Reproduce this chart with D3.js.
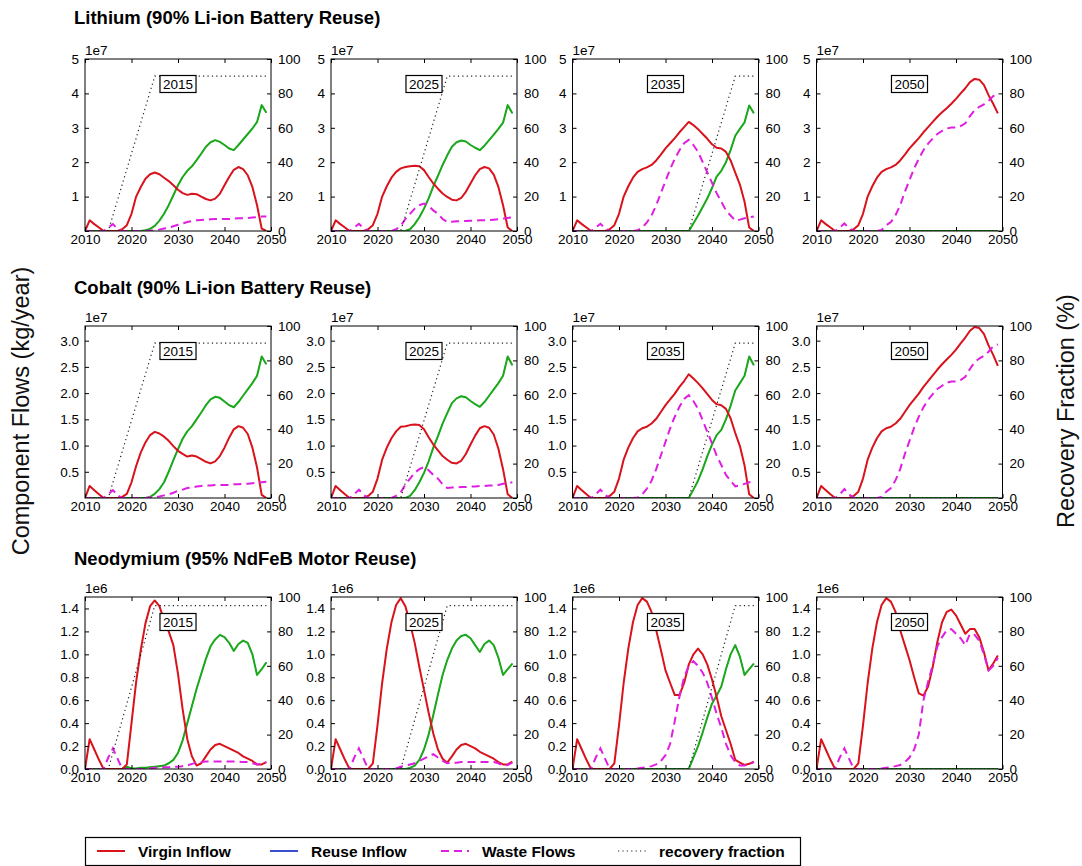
<!DOCTYPE html>
<html>
<head>
<meta charset="utf-8">
<script src="https://cdn.jsdelivr.net/npm/d3@7"></script>
<style>
  body { margin: 0; background: #fff; }
  svg { display: block; font-family: "Liberation Sans", Arial, Helvetica, sans-serif; }
</style>
</head>
<body>
<svg id="chart" width="1082" height="866"></svg>
<script>
// Years of the simulation (one value per year)
const years = [2010,2011,2012,2013,2014,2015,2016,2017,2018,2019,
               2020,2021,2022,2023,2024,2025,2026,2027,2028,2029,
               2030,2031,2032,2033,2034,2035,2036,2037,2038,2039,
               2040,2041,2042,2043,2044,2045,2046,2047,2048,2049];

const scenarioLabels = ["2015", "2025", "2035", "2050"];
const materialTitles = ["Lithium (90% Li-ion Battery Reuse)",
                        "Cobalt (90% Li-ion Battery Reuse)",
                        "Neodymium (95% NdFeB Motor Reuse)"];
const xTicks = [2010, 2020, 2030, 2040, 2050];
const recoveryTicks = [0, 20, 40, 60, 80, 100];
const liTicks = [0, 1, 2, 3, 4, 5];
const coTicks = [0.5, 1.0, 1.5, 2.0, 2.5, 3.0];
const ndTicks = [0.0, 0.2, 0.4, 0.6, 0.8, 1.0, 1.2, 1.4];

// No reuse in the 2050 scenario
const zeroFlow = [0,0,0,0,0,0,0,0,0,0, 0,0,0,0,0,0,0,0,0,0, 0,0,0,0,0,0,0,0,0,0, 0,0,0,0,0,0,0,0,0,0];

// Recovery fraction (%), ramping from the scenario start year
const rec90From2015 = [0,0,0,0,0,0,9,18,27,36, 45,54,63,72,81,90,90,90,90,90, 90,90,90,90,90,90,90,90,90,90, 90,90,90,90,90,90,90,90,90,90];
const rec90From2025 = [0,0,0,0,0,0,0,0,0,0, 0,0,0,0,0,0,9,18,27,36, 45,54,63,72,81,90,90,90,90,90, 90,90,90,90,90,90,90,90,90,90];
const rec90From2035 = [0,0,0,0,0,0,0,0,0,0, 0,0,0,0,0,0,0,0,0,0, 0,0,0,0,0,0,9,18,27,36, 45,54,63,72,81,90,90,90,90,90];
const rec95From2015 = [0,0,0,0,0,0,9.5,19,28.5,38, 47.5,57,66.5,76,85.5,95,95,95,95,95, 95,95,95,95,95,95,95,95,95,95, 95,95,95,95,95,95,95,95,95,95];
const rec95From2025 = [0,0,0,0,0,0,0,0,0,0, 0,0,0,0,0,0,9.5,19,28.5,38, 47.5,57,66.5,76,85.5,95,95,95,95,95, 95,95,95,95,95,95,95,95,95,95];
const rec95From2035 = [0,0,0,0,0,0,0,0,0,0, 0,0,0,0,0,0,0,0,0,0, 0,0,0,0,0,0,9.5,19,28.5,38, 47.5,57,66.5,76,85.5,95,95,95,95,95];
const recNone = zeroFlow;

// ---- Lithium (x 1e7 kg/year) ----
const liVirgin2015 = [0,.31,.2,.1,0,0,0,0,.05,.17, .5,1.0,1.28,1.52,1.65,1.70,1.65,1.55,1.45,1.33, 1.2,1.1,1.05,1.08,1.07,1.0,.93,.89,.94,1.08, 1.33,1.57,1.78,1.86,1.8,1.62,1.28,.75,.07,0];
const liRecovered2015 = [0,0,0,0,0,0,0,0,0,0, 0,0,0,.02,.06,.15,.3,.5,.75,1.04, 1.33,1.57,1.75,1.88,2.06,2.25,2.45,2.58,2.64,2.59, 2.5,2.4,2.35,2.5,2.66,2.82,2.98,3.17,3.66,3.44];
const liWaste2015 = [0,0,0,0,0,.1,.2,.06,0,0, 0,0,0,0,.01,.02,.04,.07,.1,.14, .18,.22,.26,.29,.31,.32,.33,.34,.35,.35, .35,.35,.36,.37,.37,.38,.39,.4,.42,.42];

const liVirgin2025 = [0,.31,.2,.1,0,0,0,0,.05,.17, .5,1.0,1.3,1.55,1.72,1.82,1.86,1.88,1.9,1.88, 1.77,1.57,1.38,1.23,1.09,.99,.91,.89,.96,1.14, 1.38,1.62,1.8,1.86,1.82,1.64,1.28,.75,.1,0];
const liRecovered2025 = [0,0,0,0,0,0,0,0,0,0, 0,0,0,0,0,0,0,.05,.2,.4, .65,.95,1.3,1.6,1.92,2.2,2.45,2.58,2.63,2.6, 2.5,2.42,2.35,2.48,2.64,2.8,2.97,3.15,3.66,3.42];
const liWaste2025 = [0,0,0,0,0,.1,.21,.08,0,0, 0,0,0,0,.05,.15,.35,.5,.65,.75, .8,.72,.6,.5,.35,.26,.27,.28,.29,.29, .3,.3,.31,.31,.32,.33,.34,.36,.38,.4];

const liVirgin2035 = [0,.31,.2,.1,0,0,0,0,.05,.17, .5,1.0,1.3,1.55,1.72,1.8,1.85,1.92,2.05,2.22, 2.4,2.55,2.7,2.87,3.02,3.17,3.08,2.96,2.82,2.68, 2.52,2.42,2.4,2.3,2.05,1.7,1.35,.85,.1,0];
const liRecovered2035 = [0,0,0,0,0,0,0,0,0,0, 0,0,0,0,0,0,0,0,0,0, 0,0,0,0,0,0,.22,.45,.7,.95, 1.25,1.58,1.75,2.0,2.35,2.77,2.97,3.16,3.65,3.42];
const liWaste2035 = [0,0,0,0,0,.1,.21,.08,0,0, 0,0,0,0,.02,.1,.25,.45,.75,1.1, 1.45,1.8,2.1,2.35,2.55,2.65,2.5,2.3,2.0,1.7, 1.4,1.1,.85,.6,.45,.3,.33,.37,.4,.42];

const liVirgin2050 = [0,.31,.2,.1,0,0,0,0,.05,.17, .5,1.0,1.3,1.55,1.72,1.8,1.85,1.92,2.05,2.22, 2.4,2.55,2.7,2.87,3.02,3.17,3.32,3.45,3.57,3.7, 3.84,4.0,4.15,4.33,4.42,4.4,4.25,3.95,3.7,3.42];
const liWaste2050 = [0,0,0,0,0,.1,.22,.08,0,0, 0,0,0,0,.03,.17,.26,.46,.75,1.14, 1.48,1.82,2.1,2.35,2.54,2.69,2.82,2.91,2.98,3.01, 3.01,3.05,3.13,3.34,3.51,3.61,3.68,3.78,3.92,3.98];

// ---- Cobalt (x 1e7 kg/year) ----
const coVirgin2015 = [0,.23,.15,.07,0,0,0,0,.02,.08, .3,.61,.87,1.06,1.2,1.26,1.23,1.17,1.09,.99, .9,.84,.79,.81,.79,.74,.69,.66,.7,.8, .96,1.15,1.31,1.37,1.34,1.22,.96,.58,.06,0];
const coRecovered2015 = [0,0,0,0,0,0,0,0,0,0, 0,0,0,0,.02,.08,.17,.3,.5,.72, .93,1.13,1.27,1.37,1.5,1.63,1.77,1.88,1.93,1.91, 1.84,1.77,1.73,1.83,1.95,2.07,2.19,2.33,2.7,2.55];
const coWaste2015 = [0,0,0,0,0,.07,.15,.05,0,0, 0,0,0,0,.01,.02,.03,.05,.07,.1, .14,.16,.19,.2,.22,.23,.24,.24,.25,.25, .25,.25,.26,.26,.27,.27,.28,.29,.3,.31];

const coVirgin2025 = [0,.23,.15,.07,0,0,0,0,.04,.12, .37,.73,.96,1.14,1.27,1.36,1.37,1.39,1.4,1.39, 1.31,1.16,1.02,.91,.8,.73,.67,.66,.71,.84, 1.02,1.19,1.33,1.37,1.34,1.21,.94,.55,.07,0];
const coRecovered2025 = [0,0,0,0,0,0,0,0,0,0, 0,0,0,0,0,0,0,.04,.15,.3, .48,.7,.96,1.18,1.42,1.62,1.81,1.9,1.94,1.92, 1.85,1.79,1.74,1.83,1.95,2.07,2.19,2.33,2.7,2.53];
const coWaste2025 = [0,0,0,0,0,.07,.16,.06,0,0, 0,0,0,0,.04,.11,.26,.37,.48,.55, .59,.53,.44,.37,.26,.19,.2,.2,.21,.21, .22,.22,.23,.23,.24,.24,.25,.27,.28,.3];

const coVirgin2035 = [0,.23,.15,.07,0,0,0,0,.04,.12, .37,.73,.96,1.14,1.27,1.33,1.36,1.42,1.51,1.64, 1.77,1.88,1.99,2.12,2.23,2.36,2.28,2.19,2.09,1.98, 1.87,1.79,1.77,1.7,1.52,1.24,.99,.62,.07,0];
const coRecovered2035 = [0,0,0,0,0,0,0,0,0,0, 0,0,0,0,0,0,0,0,0,0, 0,0,0,0,0,0,.16,.33,.55,.8, 1.02,1.2,1.3,1.5,1.76,2.05,2.19,2.33,2.7,2.53];
const coWaste2035 = [0,0,0,0,0,.07,.16,.06,0,0, 0,0,0,0,.01,.07,.18,.33,.55,.81, 1.07,1.33,1.55,1.74,1.89,1.96,1.85,1.7,1.48,1.26, 1.04,.81,.63,.44,.33,.22,.24,.27,.3,.31];

const coVirgin2050 = [0,.23,.15,.07,0,0,0,0,.04,.12, .37,.73,.96,1.14,1.27,1.33,1.36,1.42,1.51,1.64, 1.77,1.88,1.99,2.12,2.23,2.34,2.45,2.55,2.64,2.73, 2.83,2.95,3.06,3.19,3.26,3.24,3.13,2.91,2.73,2.52];
const coWaste2050 = [0,0,0,0,0,.07,.17,.07,0,0, 0,0,0,0,.02,.12,.19,.34,.55,.84, 1.09,1.34,1.55,1.73,1.87,1.98,2.08,2.14,2.2,2.22, 2.22,2.25,2.31,2.46,2.59,2.66,2.71,2.79,2.89,2.93];

// ---- Neodymium (x 1e6 kg/year) ----
const ndVirgin2015 = [0,.26,.17,.08,0,0,0,0,0,.04, .4,.76,1.04,1.27,1.42,1.47,1.42,1.3,1.2,1.08, .83,.52,.26,.11,.03,.05,.11,.17,.21,.22, .2,.18,.16,.14,.11,.09,.07,.04,.04,.06];
const ndRecovered2015 = [0,0,0,0,0,0,0,0,0,.02, .005,.005,.01,.01,.015,.02,.025,.03,.05,.08, .14,.25,.4,.55,.7,.83,.96,1.07,1.13,1.17, 1.15,1.1,1.03,1.09,1.12,1.1,1.0,.82,.87,.93];
const ndWaste2015 = [0,0,0,0,0,.1,.18,.09,0,0, 0,0,0,0,.005,.01,.01,.015,.015,.02, .02,.025,.03,.045,.055,.06,.065,.065,.065,.065, .065,.065,.065,.065,.06,.06,.05,.04,.045,.06];

const ndVirgin2025 = [0,.26,.17,.08,0,0,0,0,0,.05, .38,.75,1.05,1.28,1.43,1.49,1.42,1.27,1.1,.89, .69,.49,.31,.17,.09,.055,.11,.17,.21,.22, .2,.18,.15,.13,.11,.09,.06,.04,.04,.065];
const ndRecovered2025 = [0,0,0,0,0,0,0,0,0,0, 0,0,0,0,0,0,0,.01,.03,.08, .17,.3,.47,.65,.82,.95,1.05,1.12,1.16,1.17, 1.14,1.08,1.02,1.09,1.12,1.08,.97,.82,.87,.92];
const ndWaste2025 = [0,0,0,0,0,.1,.18,.09,0,0, 0,0,0,0,.005,.02,.03,.04,.05,.07, .09,.11,.13,.1,.07,.05,.055,.055,.06,.06, .06,.06,.06,.06,.06,.06,.05,.03,.035,.055];

const ndVirgin2035 = [0,.26,.17,.08,0,0,0,0,0,.05, .38,.75,1.05,1.28,1.43,1.49,1.46,1.37,1.21,1.04, .86,.75,.645,.645,.75,.91,1.0,1.05,1.0,.91, .78,.63,.46,.34,.22,.08,.055,.035,.045,.065];
const ndRecovered2035 = [0,0,0,0,0,0,0,0,0,0, 0,0,0,0,0,0,0,0,0,0, 0,0,0,0,0,0,.1,.2,.32,.45, .57,.64,.72,.87,1.0,1.08,.98,.82,.87,.92];
const ndWaste2035 = [0,0,0,0,0,.1,.18,.09,0,0, 0,0,0,0,.005,.01,.015,.025,.04,.07, .12,.22,.42,.63,.8,.9,.94,.9,.84,.75, .62,.48,.36,.22,.12,.06,.03,.03,.04,.06];

const ndVirgin2050 = [0,.26,.17,.08,0,0,0,0,0,.05, .38,.75,1.05,1.28,1.43,1.49,1.46,1.37,1.21,1.08, .95,.8,.66,.64,.72,.89,1.11,1.28,1.37,1.39, 1.34,1.26,1.18,1.22,1.22,1.15,1.02,.86,.92,.99];
const ndWaste2050 = [0,0,0,0,0,.1,.18,.09,0,0, 0,0,0,0,.005,.01,.015,.025,.035,.06, .1,.17,.3,.6,.76,.91,1.07,1.15,1.21,1.22, 1.18,1.14,1.08,1.18,1.17,1.12,1.0,.86,.9,.97];

// ---- colours and series styles ----
const colors = { virgin: "#d9121b", reuse: "#3a4fd0", recovered: "#1ba81b", waste: "#e01ee0", recovery: "#222" };

// ---- assemble panels ----
const materials = [
  { title: materialTitles[0], exponent: "1e7", yMax: 5, ticks: liTicks,
    fmt: d => d === 0 ? "" : d3.format("d")(d),
    panels: [
      { virgin: liVirgin2015, recovered: liRecovered2015, waste: liWaste2015, recovery: rec90From2015 },
      { virgin: liVirgin2025, recovered: liRecovered2025, waste: liWaste2025, recovery: rec90From2025 },
      { virgin: liVirgin2035, recovered: liRecovered2035, waste: liWaste2035, recovery: rec90From2035 },
      { virgin: liVirgin2050, recovered: zeroFlow, waste: liWaste2050, recovery: recNone } ] },
  { title: materialTitles[1], exponent: "1e7", yMax: 3.28, ticks: coTicks,
    fmt: d3.format(".1f"),
    panels: [
      { virgin: coVirgin2015, recovered: coRecovered2015, waste: coWaste2015, recovery: rec90From2015 },
      { virgin: coVirgin2025, recovered: coRecovered2025, waste: coWaste2025, recovery: rec90From2025 },
      { virgin: coVirgin2035, recovered: coRecovered2035, waste: coWaste2035, recovery: rec90From2035 },
      { virgin: coVirgin2050, recovered: zeroFlow, waste: coWaste2050, recovery: recNone } ] },
  { title: materialTitles[2], exponent: "1e6", yMax: 1.5, ticks: ndTicks,
    fmt: d3.format(".1f"),
    panels: [
      { virgin: ndVirgin2015, recovered: ndRecovered2015, waste: ndWaste2015, recovery: rec95From2015 },
      { virgin: ndVirgin2025, recovered: ndRecovered2025, waste: ndWaste2025, recovery: rec95From2025 },
      { virgin: ndVirgin2035, recovered: ndRecovered2035, waste: ndWaste2035, recovery: rec95From2035 },
      { virgin: ndVirgin2050, recovered: zeroFlow, waste: ndWaste2050, recovery: recNone } ] }
];

// ---- layout ----
const svg = d3.select("#chart");
const colX = [85, 331, 572.5, 816.5];
const rowY = [59, 326, 597];
const titleY = [24, 294, 565];
const panelW = 186, panelH = 172;
const tickFont = 13.5;

materials.forEach((m, r) => {
  svg.append("text")
    .attr("x", 74).attr("y", titleY[r])
    .attr("font-size", 18.5).attr("font-weight", "bold")
    .text(m.title);

  m.panels.forEach((p, c) => {
    const g = svg.append("g").attr("transform", `translate(${colX[c]},${rowY[r]})`);
    const x = d3.scaleLinear().domain([2010, 2050]).range([0, panelW]);
    const y = d3.scaleLinear().domain([0, m.yMax]).range([panelH, 0]);
    const y2 = d3.scaleLinear().domain([0, 100]).range([panelH, 0]);

    const clipId = `clip-${r}-${c}`;
    g.append("clipPath").attr("id", clipId)
      .append("rect").attr("x", 0).attr("y", -2).attr("width", panelW).attr("height", panelH + 2);

    const plot = g.append("g").attr("clip-path", `url(#${clipId})`);
    const flowLine = d3.line().x((d, i) => x(years[i])).y(d => y(d));
    const recLine = d3.line().x((d, i) => x(years[i])).y(d => y2(d));

    // reuse inflow equals the recovered flow, drawn thinner beneath it
    plot.append("path").datum(p.recovered).attr("d", flowLine)
      .attr("fill", "none").attr("stroke", colors.reuse).attr("stroke-width", 1);
    plot.append("path").datum(p.recovered).attr("d", flowLine)
      .attr("fill", "none").attr("stroke", colors.recovered).attr("stroke-width", 2)
      .attr("stroke-linejoin", "round");
    plot.append("path").datum(p.virgin).attr("d", flowLine)
      .attr("fill", "none").attr("stroke", colors.virgin).attr("stroke-width", 2)
      .attr("stroke-linejoin", "round");
    plot.append("path").datum(p.waste).attr("d", flowLine)
      .attr("fill", "none").attr("stroke", colors.waste).attr("stroke-width", 2)
      .attr("stroke-dasharray", "8,5");
    plot.append("path").datum(p.recovery).attr("d", recLine)
      .attr("fill", "none").attr("stroke", colors.recovery).attr("stroke-width", 1.2)
      .attr("stroke-dasharray", "1.2,3.2");

    // axes (ticks point inward)
    const axBottom = g.append("g").attr("transform", `translate(0,${panelH})`)
      .call(d3.axisBottom(x).tickValues(xTicks).tickSizeInner(-4).tickSizeOuter(0)
        .tickPadding(3).tickFormat(d3.format("d")));
    const axTop = g.append("g")
      .call(d3.axisTop(x).tickValues(xTicks).tickSizeInner(-4).tickSizeOuter(0).tickFormat(""));
    const axLeft = g.append("g")
      .call(d3.axisLeft(y).tickValues(m.ticks).tickSizeInner(-4).tickSizeOuter(0)
        .tickPadding(6).tickFormat(m.fmt));
    const axRight = g.append("g").attr("transform", `translate(${panelW},0)`)
      .call(d3.axisRight(y2).tickValues(recoveryTicks).tickSizeInner(-4).tickSizeOuter(0)
        .tickPadding(7).tickFormat(d3.format("d")));
    [axBottom, axTop, axLeft, axRight].forEach(a => {
      a.select(".domain").remove();
      a.selectAll("line").attr("stroke", "#000");
      a.selectAll("text").attr("font-size", tickFont).attr("fill", "#000")
        .attr("font-family", "Liberation Sans, Arial, sans-serif");
    });

    g.append("rect").attr("width", panelW).attr("height", panelH)
      .attr("fill", "none").attr("stroke", "#000").attr("stroke-width", 1);

    // scale exponent
    g.append("text").attr("x", 0).attr("y", -4)
      .attr("font-size", tickFont).text(m.exponent);

    // scenario label box
    const lab = g.append("g").attr("transform", `translate(${panelW / 2},25)`);
    const t = lab.append("text").attr("text-anchor", "middle").attr("dy", "0.36em")
      .attr("font-size", tickFont).text(scenarioLabels[c]);
    const tw = t.node().getComputedTextLength();
    lab.insert("rect", "text")
      .attr("x", -tw / 2 - 3).attr("y", -8.5).attr("width", tw + 6).attr("height", 17)
      .attr("fill", "#fff").attr("stroke", "#000").attr("stroke-width", 1.2);
  });
});

// axis titles
svg.append("text")
  .attr("transform", "translate(29,411) rotate(-90)")
  .attr("text-anchor", "middle").attr("font-size", 23.5).attr("fill", "#111")
  .text("Component Flows (kg/year)");
svg.append("text")
  .attr("transform", "translate(1074,411) rotate(-90)")
  .attr("text-anchor", "middle").attr("font-size", 23.5).attr("fill", "#111")
  .text("Recovery Fraction (%)");

// legend
const legendItems = [
  { name: "Virgin Inflow", color: colors.virgin, dash: null, width: 2, x: 97 },
  { name: "Reuse Inflow", color: colors.reuse, dash: null, width: 2, x: 270 },
  { name: "Waste Flows", color: colors.waste, dash: "8,5", width: 2, x: 441 },
  { name: "recovery fraction", color: colors.recovery, dash: "1.2,3.2", width: 1.2, x: 618 }
];
const legend = svg.append("g");
legend.append("rect").attr("x", 85.5).attr("y", 837.5).attr("width", 715).attr("height", 28)
  .attr("fill", "#fff").attr("stroke", "#000").attr("stroke-width", 1.2);
legendItems.forEach(it => {
  legend.append("line").attr("x1", it.x).attr("x2", it.x + 28).attr("y1", 851).attr("y2", 851)
    .attr("stroke", it.color).attr("stroke-width", it.width)
    .attr("stroke-dasharray", it.dash);
  legend.append("text").attr("x", it.x + 41).attr("y", 856.5)
    .attr("font-size", 15.5).attr("font-weight", "bold").text(it.name);
});
</script>
</body>
</html>
